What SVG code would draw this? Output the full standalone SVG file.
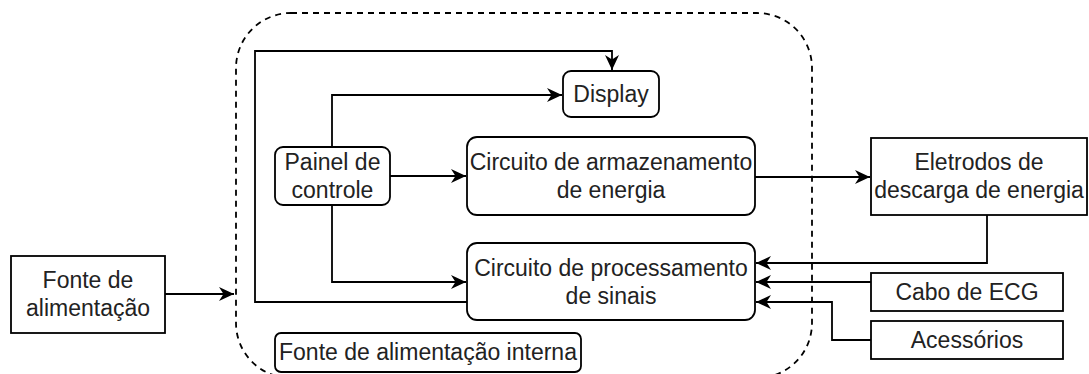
<svg xmlns="http://www.w3.org/2000/svg" width="1089" height="374" viewBox="0 0 1089 374">
<defs>
<style>
.box{fill:#fff;stroke:#000;stroke-width:1.8}
.lbl{font-family:"Liberation Sans",Arial,sans-serif;font-size:23px;fill:#222;text-anchor:middle}
.edge{fill:none;stroke:#000;stroke-width:1.8}
.cont{fill:none;stroke:#000;stroke-width:1.8;stroke-dasharray:6 5}
</style>
<marker id="arr" markerUnits="userSpaceOnUse" markerWidth="16" markerHeight="14" viewBox="0 0 16 14" refX="15" refY="7" orient="auto">
<path d="M0,0 L15,7 L0,14 L4.5,7 z" fill="#000"/>
</marker>
</defs>
<rect width="1089" height="374" fill="#fff"/>
<g id="container">
<rect class="cont" x="236" y="13" width="576" height="365" rx="55" ry="55"/>
</g>
<g id="connectors">
<path class="edge" d="M165,294 H234" marker-end="url(#arr)"/>
<path class="edge" d="M332,147 V95 H562" marker-end="url(#arr)"/>
<path class="edge" d="M467,302 H255 V51 H612 V70" marker-end="url(#arr)"/>
<path class="edge" d="M390,176 H466" marker-end="url(#arr)"/>
<path class="edge" d="M332,205 V282 H466" marker-end="url(#arr)"/>
<path class="edge" d="M755,177 H870" marker-end="url(#arr)"/>
<path class="edge" d="M987,215 V263 H756" marker-end="url(#arr)"/>
<path class="edge" d="M871,282 H756" marker-end="url(#arr)"/>
<path class="edge" d="M871,340 H832 V302 H756" marker-end="url(#arr)"/>
</g>
<g id="fonte">
<rect class="box" x="11" y="256" width="154" height="77"/>
<text class="lbl" x="88" y="288">Fonte de</text>
<text class="lbl" x="88" y="316">alimentação</text>
</g>
<g id="display">
<rect class="box" x="563" y="71" width="96" height="46" rx="8"/>
<text class="lbl" x="611" y="102">Display</text>
</g>
<g id="painel">
<rect class="box" x="275" y="147" width="115" height="58" rx="8"/>
<text class="lbl" x="332.5" y="170">Painel de</text>
<text class="lbl" x="332.5" y="198">controle</text>
</g>
<g id="armazenamento">
<rect class="box" x="467" y="137" width="288" height="78" rx="10"/>
<text class="lbl" x="611" y="170">Circuito de armazenamento</text>
<text class="lbl" x="611" y="198">de energia</text>
</g>
<g id="processamento">
<rect class="box" x="467" y="243" width="288" height="77" rx="10"/>
<text class="lbl" x="611" y="276">Circuito de processamento</text>
<text class="lbl" x="611" y="304">de sinais</text>
</g>
<g id="fonte-interna">
<rect class="box" x="275" y="333" width="306" height="39" rx="6"/>
<text class="lbl" x="428" y="360">Fonte de alimentação interna</text>
</g>
<g id="eletrodos">
<rect class="box" x="871" y="138" width="216" height="77"/>
<text class="lbl" x="979" y="170">Eletrodos de</text>
<text class="lbl" x="979" y="198">descarga de energia</text>
</g>
<g id="cabo">
<rect class="box" x="871" y="273" width="192" height="38"/>
<text class="lbl" x="967" y="300">Cabo de ECG</text>
</g>
<g id="acessorios">
<rect class="box" x="871" y="321" width="192" height="38"/>
<text class="lbl" x="967" y="348">Acessórios</text>
</g>
</svg>
